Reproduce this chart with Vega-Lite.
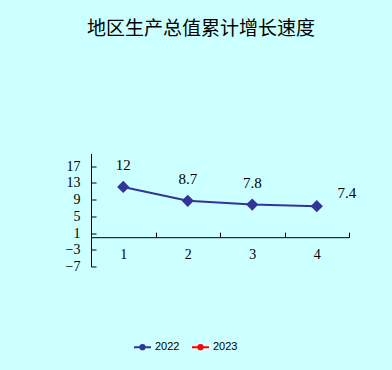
{
  "$schema": "https://vega.github.io/schema/vega-lite/v6.json",
  "width": 258,
  "height": 113,
  "autosize": "none",
  "padding": {"left": 91, "top": 153.5, "right": 43, "bottom": 103.5},
  "background": "#ccffff",
  "title": {"text": "地区生产总值累计增长速度", "font": "Noto Sans CJK SC", "fontSize": 19, "fontWeight": "normal", "color": "#000000", "anchor": "middle", "dx": -19, "offset": 115},
  "config": {"view": {"stroke": null}},
  "data": {"values": [
    {"q": "1", "year": "2022", "v": 12},
    {"q": "2", "year": "2022", "v": 8.7},
    {"q": "3", "year": "2022", "v": 7.8},
    {"q": "4", "year": "2022", "v": 7.4}
  ]},
  "encoding": {
    "x": {"field": "q", "type": "ordinal", "title": null,
      "scale": {"paddingInner": 0, "paddingOuter": 0},
      "axis": {"labelAngle": 0, "domainColor": "#000000", "tickColor": "#000000", "tickBand": "extent", "tickSize": -5, "labelPadding": 15, "offset": -29.3, "labelFont": "Liberation Serif", "labelFontSize": 14, "labelColor": "#000000"}},
    "y": {"field": "v", "type": "quantitative", "title": null,
      "scale": {"domain": [-7, 20], "nice": false, "zero": false},
      "axis": {"values": [-7, -3, 1, 5, 9, 13, 17], "grid": false, "domainColor": "#000000", "tickColor": "#000000", "tickSize": -5, "labelPadding": 16, "labelFont": "Liberation Serif", "labelFontSize": 14, "labelColor": "#000000"}}
  },
  "layer": [
    {"mark": {"type": "line", "strokeWidth": 2},
     "encoding": {"color": {"field": "year", "type": "nominal", "title": null,
       "scale": {"domain": ["2022", "2023"], "range": ["#333399", "#ff0000"]},
       "legend": {"orient": "none", "legendX": 42, "legendY": 184, "direction": "horizontal",
         "symbolType": "M-1,0H1M-0.25,0A0.25,0.25,0,1,1,0.25,0A0.25,0.25,0,1,1,-0.25,0",
         "symbolSize": 289, "symbolStrokeWidth": 2, "labelFont": "Liberation Sans", "labelFontSize": 11, "labelColor": "#000000", "labelOffset": 3, "columnPadding": 8,
         "encode": {"symbols": {"update": {"fill": {"scale": "color", "field": "value"}, "stroke": {"scale": "color", "field": "value"}, "fillOpacity": {"value": 1}}}}}}}},
    {"mark": {"type": "point", "shape": "diamond", "filled": true, "size": 150, "opacity": 1},
     "encoding": {"color": {"field": "year", "type": "nominal", "legend": null}}},
    {"transform": [{"filter": "datum.q != '4'"}],
     "mark": {"type": "text", "dy": -22, "font": "Liberation Serif", "fontSize": 15, "color": "#000000"},
     "encoding": {"text": {"field": "v", "type": "quantitative"}}},
    {"transform": [{"filter": "datum.q == '4'"}],
     "mark": {"type": "text", "dy": -13, "dx": 30, "font": "Liberation Serif", "fontSize": 15, "color": "#000000"},
     "encoding": {"text": {"field": "v", "type": "quantitative"}}}
  ]
}
